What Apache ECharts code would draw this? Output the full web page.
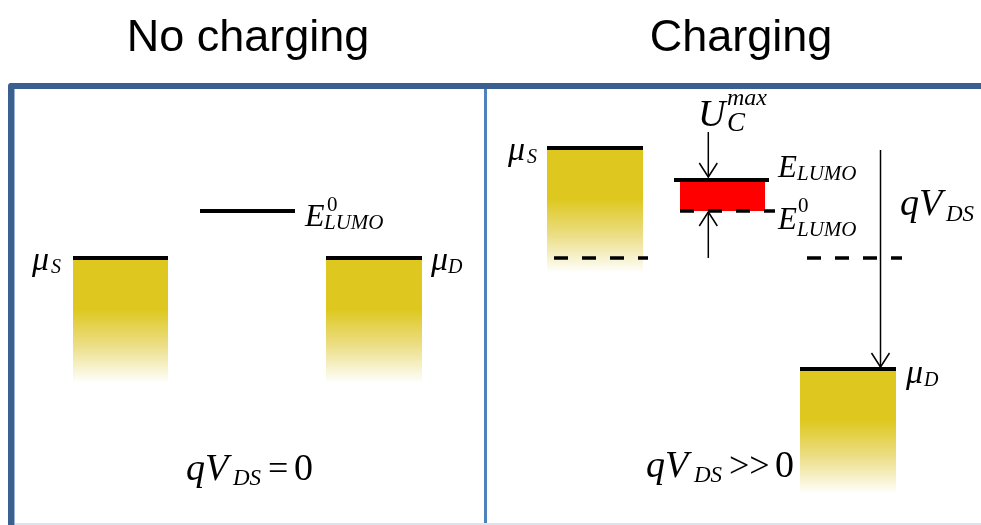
<!DOCTYPE html>
<html>
<head>
<meta charset="utf-8">
<script src="https://cdn.jsdelivr.net/npm/echarts@6/dist/echarts.min.js"></script>
<style>html,body{margin:0;padding:0;background:#fff}#c{width:981px;height:525px}</style>
</head>
<body>
<div id="c"></div>
<script>
// ---- data (energies in arbitrary units, 0 = equilibrium Fermi level; positions in 10px units) ----
const panelTitles = ['No charging', 'Charging'];
const contactLabels = ['μS', 'μD', 'μS', 'μD'];
const contactLeft = [7.3, 32.6, 54.7, 80.0];
const contactRight = [16.8, 42.2, 64.3, 89.6];
const contactLevel = [0, 0, 1.10, -1.11];
const bandDepth = 1.25;
const levelLeft = [20.0, 67.4];            // E0_LUMO (no charging), E_LUMO (charging)
const levelRight = [29.5, 76.9];
const levelEnergy = [0.47, 0.78];
const chargeLeft = [68.0];
const chargeRight = [76.5];
const chargeBottom = [0.47];
const chargeTop = [0.78];
const dashLeft = [55.4, 68.0, 80.7];
const dashRight = [64.8, 77.5, 90.2];
const dashEnergy = [0, 0.47, 0];
const arrowX = [70.83, 70.83, 88.05];
const arrowFrom = [1.26, 0.0, 1.08];
const arrowTo = [0.81, 0.46, -1.09];

const chart = echarts.init(document.getElementById('c'), null, {renderer: 'canvas'});

const serif = '"Liberation Serif", "Times New Roman", serif';
function txt(s, x, base, size, italic, extra) {
  return Object.assign({
    type: 'text', silent: true,
    style: {
      text: s, x: x, y: base - 0.30 * size,
      fontFamily: serif, fontSize: size, fontStyle: italic === false ? 'normal' : 'italic',
      fill: '#000', align: 'left', verticalAlign: 'middle'
    }
  }, extra || {});
}

const frameBlue = '#3B5F8E';
const graphics = [
  {type: 'rect', shape: {x: 9, y: 83, width: 972, height: 6, r: [3, 0, 0, 0]}, style: {fill: frameBlue}},
  {type: 'rect', shape: {x: 8, y: 83, width: 6, height: 442, r: [3, 0, 0, 0]}, style: {fill: frameBlue}},
  {type: 'rect', shape: {x: 14, y: 89, width: 1, height: 436}, style: {fill: '#9DB4D6'}},
  {type: 'rect', shape: {x: 484, y: 89, width: 3, height: 436}, style: {fill: '#4F81BD'}},
  {type: 'rect', shape: {x: 15, y: 523, width: 966, height: 2}, style: {fill: '#DCE3EA'}},
  {type: 'text', style: {text: panelTitles[0], x: 248, y: 61, fontFamily: '"Liberation Sans", Arial, sans-serif', fontSize: 45, fill: '#000', align: 'center', verticalAlign: 'bottom'}},
  {type: 'text', style: {text: panelTitles[1], x: 741, y: 61, fontFamily: '"Liberation Sans", Arial, sans-serif', fontSize: 45, fill: '#000', align: 'center', verticalAlign: 'bottom'}},
  // left panel labels
  txt('μ', 32, 271, 34), txt('S', 51, 274, 20),
  txt('μ', 431, 271, 34), txt('D', 448, 274, 20),
  txt('E', 305, 227, 32), txt('0', 327, 212, 21, false), txt('LUMO', 324, 230, 21),
  txt('qV', 186, 481, 38), txt('DS', 233, 486, 23), txt('=', 268, 481, 36, false), txt('0', 294, 481, 38, false),
  // right panel labels
  txt('μ', 508, 161, 34), txt('S', 527, 164, 20),
  txt('U', 698, 127, 38), txt('max', 727, 106, 24), txt('C', 727, 132, 27),
  txt('E', 778, 178, 31), txt('LUMO', 797, 181, 21),
  txt('E', 778, 230, 31), txt('0', 798, 213, 21, false), txt('LUMO', 797, 237, 21),
  txt('qV', 900, 216, 38), txt('DS', 946, 222, 23),
  txt('μ', 906, 384, 34), txt('D', 924, 387, 20),
  txt('qV', 646, 478, 38), txt('DS', 694, 483, 23), txt('>>', 729, 478, 36, false), txt('0', 775, 478, 38, false)
];

const bandGradient = new echarts.graphic.LinearGradient(0, 0, 0, 1, [
  {offset: 0, color: '#DEC81F'},
  {offset: 0.41, color: '#DEC81F'},
  {offset: 0.7, color: '#ECDE86'},
  {offset: 1, color: '#FFFFFF'}
]);

const contactsData = contactLeft.map((l, i) => [l, contactRight[i], contactLevel[i]]);
const levelsData = levelLeft.map((l, i) => [l, levelRight[i], levelEnergy[i]]);
const chargeData = chargeLeft.map((l, i) => [l, chargeRight[i], chargeBottom[i], chargeTop[i]]);
const dashData = dashLeft.map((l, i) => [l, dashRight[i], dashEnergy[i]]);
const arrowData = arrowX.map((x, i) => [x, arrowFrom[i], arrowTo[i]]);

function arrowHead(tip, dir) { // dir = +1 pointing down (pixel), -1 up
  const w = 9, h = 14;
  return {type: 'polyline', shape: {points: [[tip[0] - w, tip[1] - dir * h], tip, [tip[0] + w, tip[1] - dir * h]]},
          style: {stroke: '#000', lineWidth: 1.5, fill: null}};
}

const option = {
  animation: false,
  grid: {left: 0, right: 0, top: 89, bottom: 0},
  xAxis: {type: 'value', min: 0, max: 98.1, show: false},
  yAxis: {type: 'value', min: -2.67, max: 1.69, show: false},
  graphic: graphics,
  series: [
    {
      type: 'custom', name: 'contacts', clip: false, data: contactsData,
      renderItem: (params, api) => {
        const p0 = api.coord([api.value(0), api.value(2)]);
        const p1 = api.coord([api.value(1), api.value(2) - bandDepth]);
        return {type: 'group', children: [
          {type: 'rect', shape: {x: p0[0], y: p0[1], width: p1[0] - p0[0], height: p1[1] - p0[1]}, style: {fill: bandGradient}},
          {type: 'line', shape: {x1: p0[0], y1: p0[1], x2: p1[0], y2: p0[1]}, style: {stroke: '#000', lineWidth: 4}}
        ]};
      }
    },
    {
      type: 'custom', name: 'charge', clip: false, data: chargeData,
      renderItem: (params, api) => {
        const p0 = api.coord([api.value(0), api.value(3)]);
        const p1 = api.coord([api.value(1), api.value(2)]);
        return {type: 'rect', shape: {x: p0[0], y: p0[1], width: p1[0] - p0[0], height: p1[1] - p0[1]}, style: {fill: '#FF0000'}};
      }
    },
    {
      type: 'custom', name: 'levels', clip: false, data: levelsData,
      renderItem: (params, api) => {
        const p0 = api.coord([api.value(0), api.value(2)]);
        const p1 = api.coord([api.value(1), api.value(2)]);
        return {type: 'line', shape: {x1: p0[0], y1: p0[1], x2: p1[0], y2: p1[1]}, style: {stroke: '#000', lineWidth: 4}};
      }
    },
    {
      type: 'custom', name: 'dashed', clip: false, data: dashData,
      renderItem: (params, api) => {
        const p0 = api.coord([api.value(0), api.value(2)]);
        const p1 = api.coord([api.value(1), api.value(2)]);
        return {type: 'line', shape: {x1: p0[0], y1: p0[1], x2: p1[0], y2: p1[1]}, style: {stroke: '#000', lineWidth: 3.5, lineDash: [14, 14]}};
      }
    },
    {
      type: 'custom', name: 'arrows', clip: false, data: arrowData,
      renderItem: (params, api) => {
        const a = api.coord([api.value(0), api.value(1)]);
        const b = api.coord([api.value(0), api.value(2)]);
        const dir = b[1] > a[1] ? 1 : -1;
        return {type: 'group', children: [
          {type: 'line', shape: {x1: a[0], y1: a[1], x2: b[0], y2: b[1]}, style: {stroke: '#000', lineWidth: 1.5}},
          arrowHead(b, dir)
        ]};
      }
    }
  ]
};
chart.setOption(option);
</script>
</body>
</html>
